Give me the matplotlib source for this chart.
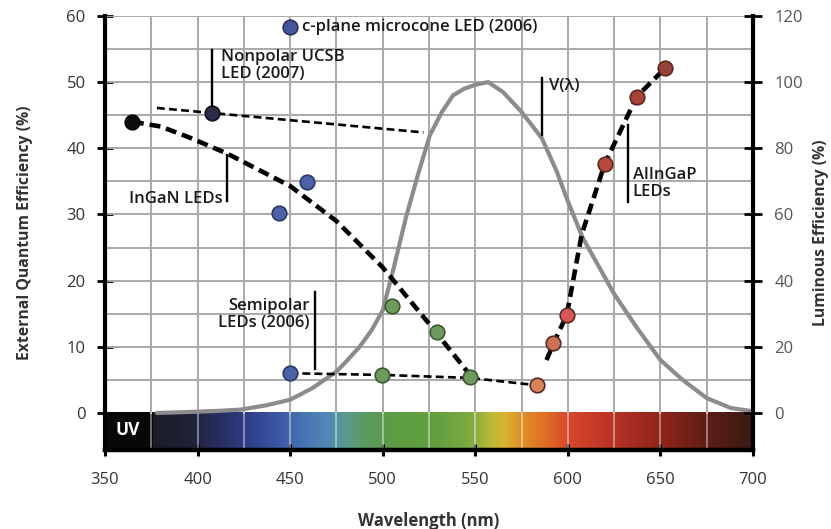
import numpy as np
import matplotlib
matplotlib.use("Agg")
import matplotlib.pyplot as plt
from matplotlib.colors import LinearSegmentedColormap

plt.rcParams['font.family'] = ['Open Sans', 'DejaVu Sans']

# ---------------- data ----------------
# InGaN (UV) LED point and InGaN trend line
ingan_uv_x = [364.5]
ingan_uv_y = [44.0]
ingan_trend_x = [365, 380, 395, 416, 450, 475, 500, 525, 547]
ingan_trend_y = [44.0, 43.3, 41.7, 39.2, 34.3, 29.0, 22.0, 13.5, 5.8]

# Nonpolar UCSB LED (2007) and its trend line
nonpolar_x = [408]
nonpolar_y = [45.3]
nonpolar_trend_x = [378, 522]
nonpolar_trend_y = [46.1, 42.4]

# c-plane microcone LED (2006)
cplane_x = [450]
cplane_y = [58.3]

# blue InGaN LEDs
blue_x = [444.2, 459.0, 450.0]
blue_y = [30.2, 34.9, 6.0]

# green LEDs
green_x = [504.9, 529.2, 499.4, 547.2]
green_y = [16.1, 12.3, 5.7, 5.5]

# semipolar trend line
semipolar_trend_x = [450, 500, 547, 583]
semipolar_trend_y = [6.0, 5.75, 5.3, 4.2]

# AlInGaP LEDs
alingap_x = [583.2, 592.2, 599.4, 620.0, 637.2, 652.5]
alingap_y = [4.2, 10.5, 14.8, 37.7, 47.8, 52.1]
alingap_colors = ['#d9825a', '#cf7058', '#d4575a', '#b84a3c', '#a8433a', '#96403a']
alingap_trend_x = [588.5, 592.2, 599.4, 607.5, 620.0, 637.2, 652.5]
alingap_trend_y = [8.0, 10.5, 14.8, 27.0, 37.7, 47.8, 52.1]

# V(lambda) luminous efficiency (%), right axis
vl_x = [378, 390, 400, 410, 423, 437, 450, 462, 475, 481, 487.5, 494, 500, 506, 512.5, 519,
        525.5, 532, 538, 544, 550.5, 557, 565, 575, 586, 594, 600, 608, 619, 625,
        637, 650, 662, 675, 688, 700]
vl_y = [0, 0.2, 0.4, 0.6, 1.0, 2.3, 4.0, 7.5, 12.5, 16, 20, 25, 31, 44, 59, 72,
        84, 91, 96, 98, 99.3, 100, 97, 91, 83, 73, 64, 53, 42, 36,
        26, 16, 10, 4.5, 1.5, 0.5]

# spectrum bar colour stops (wavelength nm, colour)
spec_nm = [350, 374.9, 375, 395, 410, 425, 440, 455, 470, 480, 490, 505, 530, 548,
           558, 566, 576, 588, 600, 615, 635, 655, 675, 700]
spec_col = ['#080808', '#080808', '#1b1c27', '#1f2136', '#282d5e', '#2f3b82', '#3952a2',
            '#4670b2', '#5288b6', '#5a9a8c', '#5a9a62', '#5c9c44', '#64a040', '#80aa40',
            '#b8b838', '#d8b430', '#e08c2a', '#e06e24', '#d84a2c', '#c63a28', '#a82c22',
            '#882418', '#5e1e16', '#3a1a14']

x_ticks = [350, 400, 450, 500, 550, 600, 650, 700]
left_ticks = [0, 10, 20, 30, 40, 50, 60]
right_ticks = [0, 20, 40, 60, 80, 100, 120]

# ---------------- figure ----------------
fig = plt.figure(figsize=(8.31, 5.29), dpi=100)
ax = fig.add_axes([0.1264, 0.1493, 0.7797, 0.8205])
ax2 = ax.twinx()

YMIN = -5.6
XMIN, XMAX, YMAX = 350, 700, 60

# spectrum bar
pos = [(v - 350) / 350 for v in spec_nm]
cmap = LinearSegmentedColormap.from_list('spec', list(zip(pos, spec_col)))
grad = np.linspace(0, 1, 700)[None, :]
ax.imshow(grad, extent=[XMIN, XMAX, YMIN, 0], aspect='auto', cmap=cmap,
          interpolation='bilinear', zorder=1.5)
ax.set_xlim(XMIN, XMAX)
ax.set_ylim(YMIN, YMAX)
ax2.set_ylim(2 * YMIN, 2 * YMAX)

# grid (every 25 nm, every 5 %)
grid_x = np.arange(375, 700, 25)
grid_y = np.arange(5, 61, 5)
for gx in grid_x:
    ax.plot([gx, gx], [0, YMAX], color='#a9a9a9', lw=1.4, zorder=1.8)
for gy in grid_y:
    ax.plot([XMIN, XMAX], [gy, gy], color='#a9a9a9', lw=1.4, zorder=1.8)
for gx in grid_x:
    ax.plot([gx, gx], [YMIN, 0], color='white', alpha=0.45, lw=1.3, zorder=1.85)

ax.text(362.5, -2.6, 'UV', color='white', fontweight='bold', fontsize=12.5,
        ha='center', va='center', zorder=3)

# V(lambda) curve (right axis scale)
ax.plot(vl_x, vl_y, color='#8c8c8c', lw=3.0, transform=ax2.transData, zorder=2,
        solid_capstyle='round', solid_joinstyle='round')

# trend lines
ax.plot(ingan_trend_x, ingan_trend_y, color='black', lw=3.3, dashes=(2.4, 1.3), zorder=3)
ax.plot(alingap_trend_x, alingap_trend_y, color='black', lw=3.3, dashes=(2.4, 1.3), zorder=3)
ax.plot(nonpolar_trend_x, nonpolar_trend_y, color='black', lw=1.9, dashes=(3.0, 1.6), zorder=3)
ax.plot(semipolar_trend_x, semipolar_trend_y, color='black', lw=1.9, dashes=(3.0, 1.6), zorder=3)

# markers
mk = dict(marker='o', ms=10.5, mew=1.2, ls='none', zorder=4)
ax.plot(ingan_uv_x, ingan_uv_y, mfc='#0c0c0c', mec='#000000', **mk)
ax.plot(nonpolar_x, nonpolar_y, mfc='#2a2c48', mec='#111122', **mk)
ax.plot(cplane_x, cplane_y, mfc='#46579a', mec='#29325e', **mk)
ax.plot(blue_x, blue_y, mfc='#4d62a6', mec='#2c3866', **mk)
ax.plot(green_x, green_y, mfc='#6e9a5e', mec='#3c5a32', **mk)
for xx, yy, cc in zip(alingap_x, alingap_y, alingap_colors):
    ax.plot([xx], [yy], mfc=cc, mec='#5a2a20', **mk)

# annotations
tkw = dict(fontsize=12, color='#1a1a1a', fontweight='semibold', zorder=5)
lkw = dict(color='black', lw=1.7, zorder=5)
ax.text(456.5, 58.3, 'c-plane microcone LED (2006)', ha='left', va='center', **tkw)
ax.text(412.5, 55.0, 'Nonpolar UCSB\nLED (2007)', ha='left', va='top', linespacing=1.1, **tkw)
ax.plot([408, 408], [46.4, 54.8], **lkw)
ax.text(413.5, 32.3, 'InGaN LEDs', ha='right', va='center', **tkw)
ax.plot([416, 416], [32.0, 39.0], **lkw)
ax.text(460.5, 14.9, 'Semipolar\nLEDs (2006)', ha='right', va='center',
        multialignment='right', linespacing=1.1, **tkw)
ax.plot([463.5, 463.5], [6.6, 18.3], **lkw)
ax.text(590.0, 49.4, 'V(λ)', ha='left', va='center', **tkw)
ax.plot([585.9, 585.9], [42.0, 50.6], **lkw)
ax.text(635.0, 34.7, 'AlInGaP\nLEDs', ha='left', va='center', linespacing=1.1, **tkw)
ax.plot([632.5, 632.5], [31.9, 43.5], **lkw)

# axes styling
ax.set_xticks(x_ticks)
ax.set_yticks(left_ticks)
ax2.set_yticks(right_ticks)
for s in ['top', 'right']:
    ax.spines[s].set_visible(False)
for s in ['top', 'left', 'bottom']:
    ax2.spines[s].set_visible(False)
ax.spines['left'].set_linewidth(3.0)
ax.spines['bottom'].set_linewidth(3.2)
ax2.spines['right'].set_linewidth(3.0)
ax.tick_params(axis='x', which='major', direction='inout', length=8, width=2.2,
               color='black', pad=12, labelsize=12, labelcolor='#333333')
ax.tick_params(axis='y', which='major', direction='inout', length=12, width=2.0,
               color='black', pad=8, labelsize=12, labelcolor='#333333')
ax2.tick_params(axis='y', which='major', direction='inout', length=13, width=2.0,
                color='black', pad=9, labelsize=12, labelcolor='#555555')

ax.set_xlabel('Wavelength (nm)', fontsize=12, fontweight='bold', color='#333333')
ax.xaxis.set_label_coords(0.5, -0.143)
ax.set_ylabel('External Quantum Efficiency (%)', fontsize=11.3, fontweight='bold', color='#333333')
ax.yaxis.set_label_coords(-0.111, 0.5)
ax2.set_ylabel('Luminous Efficiency (%)', fontsize=11.3, fontweight='bold', color='#333333')
ax2.yaxis.set_label_coords(1.0926, 0.5)

fig.savefig('out.png', dpi=100)
